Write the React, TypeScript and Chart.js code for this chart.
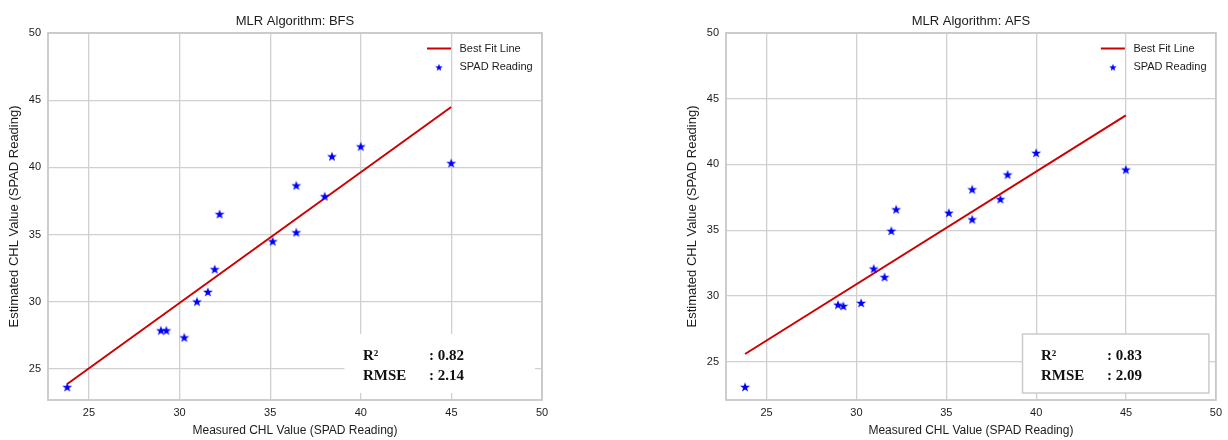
import React, { useEffect, useRef } from "react";
import { Chart, registerables } from "chart.js";

Chart.register(...registerables);

// ---------- data ----------
const measuredCHL = [23.8, 28.97, 29.27, 30.26, 30.96, 31.56, 31.94, 32.21, 35.14, 36.44, 36.44, 38.01, 38.41, 40.0, 44.99];
const estimatedBFS = [23.66, 27.87, 27.87, 27.35, 30.02, 30.74, 32.43, 36.53, 34.5, 38.66, 35.17, 37.85, 40.82, 41.56, 40.32];
const estimatedAFS = [23.07, 29.33, 29.23, 29.46, 32.07, 31.43, 34.95, 36.58, 36.32, 38.1, 35.82, 37.36, 39.23, 40.88, 39.61];
const fitXBFS = [23.8, 44.99];
const fitYBFS = [23.89, 44.5];
const fitXAFS = [23.8, 44.99];
const fitYAFS = [25.58, 43.74];
const xTickValues = [25, 30, 35, 40, 45, 50];
const yTickValues = [25, 30, 35, 40, 45, 50];
const statLabels = ["R\u00B2", "RMSE"];
const statsBFS = ["0.82", "2.14"];
const statsAFS = ["0.83", "2.09"];
const titles = ["MLR Algorithm: BFS", "MLR Algorithm: AFS"];
const legendLabels = ["Best Fit Line", "SPAD Reading"];
const xAxisTitle = "Measured CHL Value (SPAD Reading)";
const yAxisTitle = "Estimated CHL Value (SPAD Reading)";

const SANS = "'Liberation Sans', Arial, sans-serif";
const SERIF = "'Liberation Serif', 'Times New Roman', serif";
const TEXT = "#1c1c1c";
const GRID = "#d0d0d0";
const RED = "#cc0000";
const BLUE = "#0000ff";

function makeStar(size: number, outer: number, inner: number, color: string) {
  const c = document.createElement("canvas");
  c.width = size;
  c.height = size;
  const ctx = c.getContext("2d")!;
  ctx.beginPath();
  for (let i = 0; i < 10; i++) {
    const r = i % 2 === 0 ? outer : inner;
    const a = -Math.PI / 2 + (i * Math.PI) / 5;
    ctx.lineTo(size / 2 + r * Math.cos(a), size / 2 + r * Math.sin(a) + 0.4);
  }
  ctx.closePath();
  ctx.fillStyle = color;
  ctx.fill();
  return c;
}

type PanelCfg = {
  left: number;
  padding: { left: number; right: number; top: number; bottom: number };
  xMin: number;
  yMin: number;
  est: number[];
  fitX: number[];
  fitY: number[];
  stats: string[];
  title: string;
  boxBorder: boolean;
};

function Panel({ cfg }: { cfg: PanelCfg }) {
  const ref = useRef<HTMLCanvasElement>(null);
  useEffect(() => {
    const star = makeStar(12, 5.2, 2.1, BLUE);
    const legendStar = makeStar(10, 3.9, 1.6, BLUE);

    const decor = {
      id: "decor",
      beforeDatasetsDraw(chart: any) {
        const { ctx, chartArea: a } = chart;
        ctx.save();
        // frame
        ctx.strokeStyle = "#c8c8c8";
        ctx.lineWidth = 1.8;
        ctx.strokeRect(a.left, a.top, a.right - a.left, a.bottom - a.top);
        // stats box
        const bx = a.left + 296.5;
        const by = a.top + 301;
        const bw = a.right - 7 - bx;
        const bh = 59;
        ctx.fillStyle = "#ffffff";
        ctx.fillRect(bx, by, bw, bh);
        if (cfg.boxBorder) {
          ctx.strokeStyle = "#cccccc";
          ctx.lineWidth = 1.5;
          ctx.strokeRect(bx, by, bw, bh);
        }
        ctx.fillStyle = "#111111";
        ctx.font = `bold 15px ${SERIF}`;
        ctx.textBaseline = "middle";
        ctx.textAlign = "left";
        statLabels.forEach((lab, i) => {
          const y = a.top + 323 + i * 20;
          ctx.fillText(lab, a.left + 315, y);
          ctx.fillText(": " + cfg.stats[i], a.left + 381, y);
        });
        ctx.restore();
      },
      afterDraw(chart: any) {
        const { ctx, chartArea: a } = chart;
        ctx.save();
        // title
        ctx.fillStyle = TEXT;
        ctx.font = `13px ${SANS}`;
        ctx.textAlign = "center";
        ctx.textBaseline = "middle";
        ctx.fillText(cfg.title, (a.left + a.right) / 2, 21);
        // legend
        ctx.strokeStyle = RED;
        ctx.lineWidth = 2;
        ctx.beginPath();
        ctx.moveTo(a.right - 115, a.top + 15.5);
        ctx.lineTo(a.right - 91, a.top + 15.5);
        ctx.stroke();
        ctx.drawImage(legendStar, a.right - 103 - 5, a.top + 34.3 - 5);
        ctx.font = `11px ${SANS}`;
        ctx.textAlign = "left";
        ctx.fillText(legendLabels[0], a.right - 82.5, a.top + 15.5);
        ctx.fillText(legendLabels[1], a.right - 82.5, a.top + 34.3);
        ctx.restore();
      },
    };

    const chart = new Chart(ref.current!, {
      type: "scatter",
      data: {
        datasets: [
          {
            type: "line",
            label: legendLabels[0],
            data: cfg.fitX.map((x, i) => ({ x, y: cfg.fitY[i] })),
            borderColor: RED,
            backgroundColor: RED,
            borderWidth: 2,
            pointRadius: 0,
            fill: false,
            tension: 0,
            order: 1,
          } as any,
          {
            type: "scatter",
            label: legendLabels[1],
            data: measuredCHL.map((x, i) => ({ x, y: cfg.est[i] })),
            pointStyle: star as any,
            pointRadius: 5,
            backgroundColor: BLUE,
            borderColor: BLUE,
            order: 0,
          },
        ],
      },
      options: {
        responsive: false,
        animation: false,
        devicePixelRatio: 1,
        layout: { padding: cfg.padding },
        plugins: {
          legend: { display: false },
          title: { display: false },
          tooltip: { enabled: false },
        },
        scales: {
          x: {
            type: "linear",
            min: cfg.xMin,
            max: 50,
            afterBuildTicks: (s: any) => {
              s.ticks = xTickValues.map((v) => ({ value: v }));
            },
            afterFit: (s: any) => {
              s.height = 40;
            },
            grid: { color: GRID, lineWidth: 1.3, drawTicks: false },
            border: { display: false },
            ticks: { padding: 6, color: TEXT, font: { size: 11, family: SANS } },
            title: {
              display: true,
              text: xAxisTitle,
              color: TEXT,
              font: { size: 12, family: SANS },
              padding: { top: 0, bottom: 2 },
            },
          },
          y: {
            type: "linear",
            min: cfg.yMin,
            max: 50,
            afterBuildTicks: (s: any) => {
              s.ticks = yTickValues.map((v) => ({ value: v }));
            },
            afterFit: (s: any) => {
              s.width = 48;
            },
            grid: { color: GRID, lineWidth: 1.3, drawTicks: false },
            border: { display: false },
            ticks: { padding: 7, color: TEXT, font: { size: 11, family: SANS } },
            title: {
              display: true,
              text: yAxisTitle,
              color: TEXT,
              font: { size: 13, family: SANS },
              padding: { top: 7, bottom: 0 },
            },
          },
        },
      } as any,
      plugins: [decor],
    });
    return () => chart.destroy();
  }, [cfg]);

  return (
    <canvas
      ref={ref}
      width={614}
      height={440}
      style={{ position: "absolute", left: cfg.left, top: 0, width: 614, height: 440 }}
    />
  );
}

const panelBFS: PanelCfg = {
  left: 0,
  padding: { left: 0, right: 72, top: 33, bottom: 0 },
  xMin: 22.74,
  yMin: 22.7,
  est: estimatedBFS,
  fitX: fitXBFS,
  fitY: fitYBFS,
  stats: statsBFS,
  title: titles[0],
  boxBorder: false,
};

const panelAFS: PanelCfg = {
  left: 614,
  padding: { left: 64, right: 10, top: 33, bottom: 0 },
  xMin: 22.74,
  yMin: 22.08,
  est: estimatedAFS,
  fitX: fitXAFS,
  fitY: fitYAFS,
  stats: statsAFS,
  title: titles[1],
  boxBorder: true,
};

export default function App() {
  return (
    <div style={{ position: "absolute", left: 0, top: 0, width: 1228, height: 440, background: "#ffffff" }}>
      <Panel cfg={panelBFS} />
      <Panel cfg={panelAFS} />
    </div>
  );
}
